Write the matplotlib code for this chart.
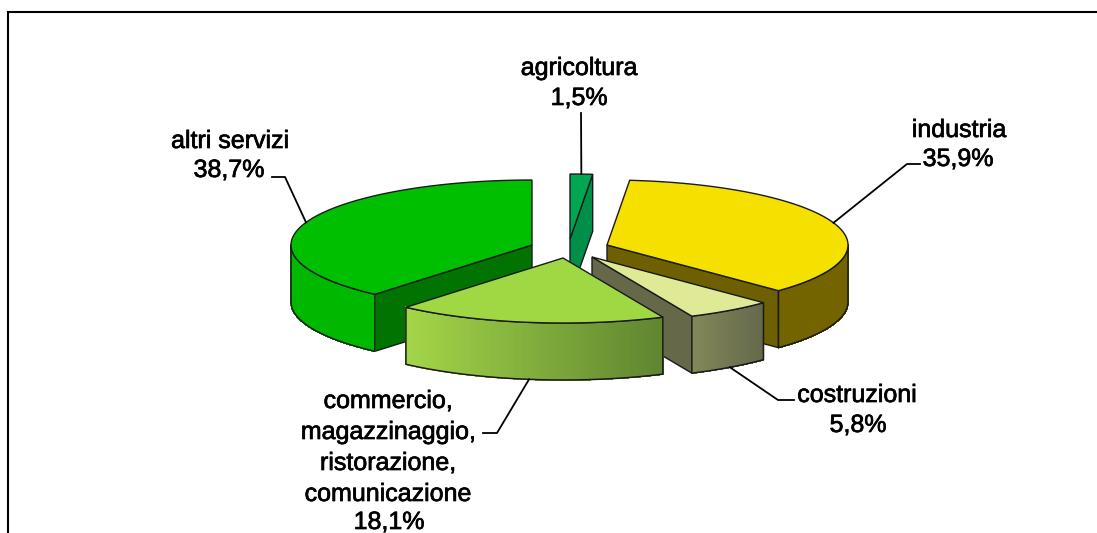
import numpy as np
import matplotlib
matplotlib.use('Agg')
import matplotlib.pyplot as plt
import matplotlib.patheffects as pe
from matplotlib.patches import Polygon

plt.rcParams['font.family'] = ['Liberation Sans', 'DejaVu Sans']

# dati, in senso orario da ore 12
categories = ['agricoltura', 'industria', 'costruzioni', 'commercio', 'altri servizi']
values = [1.5, 35.9, 5.8, 18.1, 38.7]
value_labels = ['1,5%', '35,9%', '5,8%', '18,1%', '38,7%']

# geometria della torta in pixel
RX, RY, DEPTH = 241, 65, 57
apex = {'agricoltura': (570, 239), 'industria': (607, 245), 'costruzioni': (592, 257),
        'commercio': (563, 258), 'altri servizi': (532, 245)}
top_col = {'agricoltura': '#00a651', 'industria': '#f5e000', 'costruzioni': '#e0ea96',
           'commercio': '#9fd843', 'altri servizi': '#00bf00'}
wall_col = {'agricoltura': '#008f48', 'industria': '#6e6000', 'costruzioni': '#65694a',
            'commercio': '#7d9e35', 'altri servizi': '#007300'}
# sfumatura del bordo esterno (sinistra, destra)
rim_col = {'agricoltura': ('#008f48', '#008f48'), 'industria': ('#736400', '#736400'),
           'costruzioni': ('#83875a', '#63684a'), 'commercio': ('#a2d648', '#5f8430'),
           'altri servizi': ('#00b800', '#00b800')}
draw_order = ['agricoltura', 'altri servizi', 'industria', 'costruzioni', 'commercio']

fig = plt.figure(figsize=(10.97, 5.33), dpi=100)
ax = fig.add_axes([0, 0, 1, 1])
ax.set_xlim(0, 1097)
ax.set_ylim(533, 0)
ax.axis('off')

# cornice: solo lato sinistro e lato alto
ax.plot([8, 8, 1097], [533, 12, 12], color='black', lw=1.5, solid_joinstyle='miter')

edges = np.concatenate([[0], np.cumsum(values)]) / sum(values) * 360
slices = {c: (edges[i], edges[i + 1]) for i, c in enumerate(categories)}


def rim(name, deg):
    a = np.radians(deg)
    return apex[name][0] + RX * np.sin(a), apex[name][1] - RY * np.cos(a)


def lerp_color(c1, c2, t):
    c1, c2 = np.array(matplotlib.colors.to_rgb(c1)), np.array(matplotlib.colors.to_rgb(c2))
    return tuple(c1 + (c2 - c1) * t)


for name in draw_order:
    t1, t2 = slices[name]
    x0, y0 = apex[name]
    # pareti radiali
    if t2 < 180:
        radial = t2
    elif t1 > 180:
        radial = t1
    else:
        radial = None
    if radial is not None:
        xr, yr = rim(name, radial)
        ax.add_patch(Polygon([(x0, y0), (xr, yr), (xr, yr + DEPTH), (x0, y0 + DEPTH)],
                             fc=wall_col[name], ec='#1a1a1a', lw=1.0, zorder=2))
    # parete esterna, solo la parte davanti
    a, b = max(t1, 90), min(t2, 270)
    if a < b:
        degs = np.linspace(a, b, 60)
        pts = [rim(name, d) for d in degs]
        xs = [p[0] for p in pts]
        span = max(xs) - min(xs)
        for i in range(len(pts) - 1):
            p, q = pts[i], pts[i + 1]
            t = (0.5 * (p[0] + q[0]) - min(xs)) / span
            col = lerp_color(*rim_col[name], t)
            ax.add_patch(Polygon([p, q, (q[0], q[1] + DEPTH), (p[0], p[1] + DEPTH)],
                                 fc=col, ec=col, lw=0.6, antialiased=False, zorder=2))
        outline = pts + [(x, y + DEPTH) for x, y in pts[::-1]]
        ax.add_patch(Polygon(outline, fill=False, ec='#1a1a1a', lw=1.1, zorder=2))
    # faccia superiore
    degs = np.linspace(t1, t2, 80)
    ax.add_patch(Polygon([(x0, y0)] + [rim(name, d) for d in degs], fc=top_col[name],
                         ec='#1a1a1a', lw=1.0, zorder=2))

bold = [pe.withStroke(linewidth=0.5, foreground='black')]


def label(x, y, s):
    ax.text(x, y, s, fontsize=18, ha='center', va='baseline', color='black',
            path_effects=bold, zorder=4)


# etichette: x nome, baseline nome, x valore, baseline valore
label_pos = {'agricoltura': (579, 75, 579, 105), 'industria': (959, 137, 958, 166),
             'costruzioni': (857, 402, 858, 432), 'altri servizi': (230, 148, 229, 177)}
for name, (nx, ny, vx, vy) in label_pos.items():
    label(nx, ny, name)
    label(vx, vy, value_labels[categories.index(name)])

comm_lines = ['commercio,', 'magazzinaggio,', 'ristorazione,', 'comunicazione']
comm_y = [408, 439, 470, 501]
for s, y in zip(comm_lines, comm_y):
    label(388, y, s)
label(389, 529, value_labels[3])


def leader(name, elbow, end, below=False):
    xs, ys = rim(name, sum(slices[name]) / 2)
    if below:
        ys += DEPTH
    ax.plot([xs, elbow[0], end[0]], [ys, elbow[1], end[1]], color='black', lw=1.3, zorder=3)


leader('agricoltura', (581, 113), (581, 113))
leader('industria', (907, 164), (920, 164))
leader('altri servizi', (285, 177), (272, 177))
leader('costruzioni', (778, 400), (794, 400), below=True)
leader('commercio', (497, 433), (483, 433), below=True)

fig.savefig('out.png', dpi=100)
